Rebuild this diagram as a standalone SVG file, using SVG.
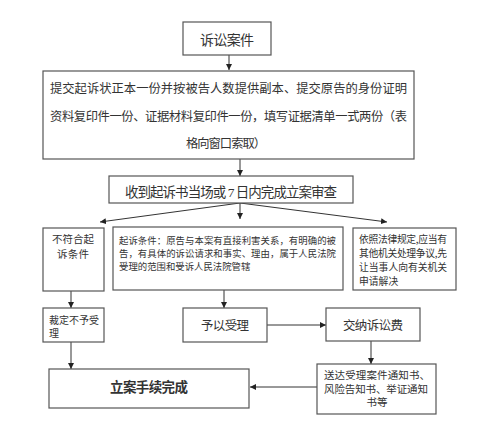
<svg xmlns="http://www.w3.org/2000/svg" width="480" height="444" viewBox="0 0 480 444">
<defs>
<marker id="ah" viewBox="0 0 10 10" refX="10" refY="5" markerWidth="6" markerHeight="6" orient="auto" markerUnits="userSpaceOnUse">
<path d="M0,0 L10,5 L0,10 z" fill="#222"/>
</marker>
<style>
.box{fill:#fff;stroke:#555;stroke-width:1.2}
.ser{font-family:"Liberation Serif","Noto Sans CJK SC",serif;fill:#333}
.sans{font-family:"Noto Sans CJK SC","Liberation Sans",sans-serif;fill:#333}
.c{stroke:#333;stroke-width:1;fill:none;marker-end:url(#ah)}
</style>
</defs>
<rect width="480" height="444" fill="#fff"/>
<g id="connectors">
<line class="c" x1="229" y1="55" x2="229" y2="70"/>
<line class="c" x1="240" y1="159" x2="240" y2="176"/>
<line class="c" x1="240" y1="203" x2="240" y2="219"/>
<line class="c" x1="240" y1="203" x2="100" y2="222"/>
<line class="c" x1="240" y1="203" x2="387" y2="222"/>
<line class="c" x1="71" y1="291" x2="71" y2="308"/>
<line class="c" x1="224" y1="290" x2="224" y2="308"/>
<line class="c" x1="267" y1="325" x2="326" y2="325"/>
<line class="c" x1="371" y1="341" x2="371" y2="364"/>
<line class="c" x1="71" y1="342" x2="71" y2="369"/>
<line class="c" x1="317" y1="387" x2="250" y2="387"/>
</g>
<g id="n1">
<rect class="box" x="183" y="22" width="88" height="33"/>
<text class="ser" x="227" y="45" font-size="14" text-anchor="middle" textLength="54" lengthAdjust="spacing">诉讼案件</text>
</g>
<g id="n2">
<rect class="box" x="43" y="71" width="371" height="88"/>
<text class="ser" x="50" y="93" font-size="12.3" textLength="357" lengthAdjust="spacing">提交起诉状正本一份并按被告人数提供副本、提交原告的身份证明</text>
<text class="ser" x="50" y="121" font-size="12.3" textLength="357" lengthAdjust="spacing">资料复印件一份、证据材料复印件一份，填写证据清单一式两份（表</text>
<text class="ser" x="186" y="148" font-size="12.3" textLength="80" lengthAdjust="spacing">格向窗口索取）</text>
</g>
<g id="n3">
<rect class="box" x="109" y="176" width="244" height="27"/>
<text class="ser" x="125" y="197" font-size="13.5" textLength="212" lengthAdjust="spacing">收到起诉书当场或 7 日内完成立案审查</text>
</g>
<g id="n4">
<rect class="box" x="43" y="228" width="61" height="63"/>
<text class="sans" x="73" y="243" font-size="10.5" text-anchor="middle" textLength="42" lengthAdjust="spacing">不符合起</text>
<text class="sans" x="73" y="257.5" font-size="10.5" text-anchor="middle" textLength="32" lengthAdjust="spacing">诉条件</text>
</g>
<g id="n5">
<rect class="box" x="113" y="227" width="230" height="63"/>
<text class="sans" x="119" y="243.5" font-size="9.4" textLength="217" lengthAdjust="spacing">起诉条件：原告与本案有直接利害关系，有明确的被</text>
<text class="sans" x="119" y="256.5" font-size="9.4" textLength="217" lengthAdjust="spacing">告，有具体的诉讼请求和事实、理由，属于人民法院</text>
<text class="sans" x="119" y="269.5" font-size="9.4">受理的范围和受诉人民法院管辖</text>
</g>
<g id="n6">
<rect class="box" x="353" y="228" width="103" height="62"/>
<text class="sans" x="359" y="243" font-size="9.8" textLength="88" lengthAdjust="spacing">依照法律规定,应当有</text>
<text class="sans" x="359" y="257" font-size="9.8" textLength="88" lengthAdjust="spacing">其他机关处理争议,先</text>
<text class="sans" x="359" y="271" font-size="9.8">让当事人向有关机关</text>
<text class="sans" x="359" y="284.5" font-size="9.8">申请解决</text>
</g>
<g id="n7">
<rect class="box" x="43" y="308" width="61" height="34"/>
<text class="sans" x="49" y="323.5" font-size="10">裁定不予受</text>
<text class="sans" x="49" y="337" font-size="10">理</text>
</g>
<g id="n8">
<rect class="box" x="183" y="308" width="84" height="34"/>
<text class="ser" x="225" y="330" font-size="12.5" text-anchor="middle" textLength="48" lengthAdjust="spacing">予以受理</text>
</g>
<g id="n9">
<rect class="box" x="326" y="308" width="94" height="33"/>
<text class="ser" x="373" y="330" font-size="12.5" text-anchor="middle" textLength="60" lengthAdjust="spacing">交纳诉讼费</text>
</g>
<g id="n10">
<rect class="box" x="317" y="364" width="119" height="50"/>
<text class="sans" x="324" y="379" font-size="10.5" textLength="106" lengthAdjust="spacing">送达受理案件通知书、</text>
<text class="sans" x="324" y="392.5" font-size="10.5" textLength="104" lengthAdjust="spacing">风险告知书、举证通知</text>
<text class="sans" x="377" y="406" font-size="10.5" text-anchor="middle">书等</text>
</g>
<g id="n11">
<rect class="box" x="49" y="369" width="200" height="39"/>
<text class="ser" x="149" y="392" font-size="13.5" font-weight="bold" text-anchor="middle" textLength="78" lengthAdjust="spacing">立案手续完成</text>
</g>
</svg>
